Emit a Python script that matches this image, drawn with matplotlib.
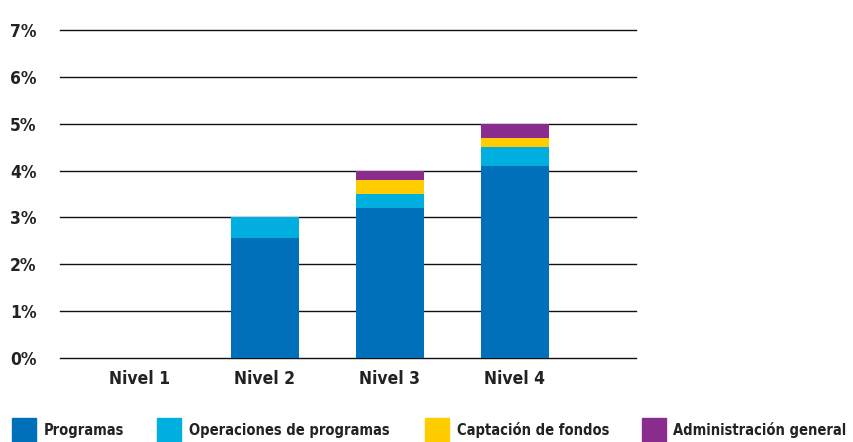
import matplotlib
matplotlib.use("Agg")
import matplotlib.pyplot as plt
from matplotlib.patches import Rectangle
import numpy as np

categories = ["Nivel 1", "Nivel 2", "Nivel 3", "Nivel 4"]
series_names = ["Programas", "Operaciones de programas", "Captación de fondos", "Administración general"]
programas = [0.0, 2.56, 3.2, 4.1]
operaciones = [0.0, 0.44, 0.3, 0.4]
captacion = [0.0, 0.0, 0.3, 0.2]
administracion = [0.0, 0.0, 0.2, 0.3]
yticks = [0, 1, 2, 3, 4, 5, 6, 7]
ytick_labels = ["0%", "1%", "2%", "3%", "4%", "5%", "6%", "7%"]
colors = ["#0070BA", "#00AEE0", "#FFCC00", "#8A2B8E"]

plt.rcParams['font.family'] = ['DejaVu Sans']
plt.rcParams['font.stretch'] = 'condensed'

fig = plt.figure(figsize=(8.54, 4.42), dpi=100)
ax = fig.add_axes([60/854, 84/442, 576/854, 328/442])

x = np.arange(len(categories))
bottom = np.zeros(len(categories))
for vals, c in zip([programas, operaciones, captacion, administracion], colors):
    ax.bar(x, vals, bottom=bottom, width=0.54, color=c, zorder=3, linewidth=0)
    bottom += np.array(vals)

ax.set_xlim(-0.64, 3.97)
ax.set_ylim(0, 7)
ax.set_yticks(yticks)
ax.set_yticklabels(ytick_labels, fontsize=12.5, fontweight='bold', color='#222222',
                   fontstretch='condensed')
ax.set_xticks(x)
ax.set_xticklabels(categories, fontsize=12.5, fontweight='bold', color='#222222',
                   fontstretch='condensed')
ax.tick_params(length=0, axis='x', pad=9)
for lbl in ax.get_yticklabels():
    lbl.set_horizontalalignment('left')
ax.yaxis.set_tick_params(length=0, pad=36)
ax.grid(axis='y', color='#111111', linewidth=1.0, zorder=0)
for gl in ax.get_ygridlines():
    gl.set_clip_on(False)
for s in ax.spines.values():
    s.set_visible(False)

# legend
leg_x = [12, 157, 425, 642]
txt_x = [44, 189, 457, 673]
for lx, tx, name, c in zip(leg_x, txt_x, series_names, colors):
    fig.patches.append(Rectangle((lx/854, 0), 24/854, 24/442, transform=fig.transFigure,
                                 color=c, figure=fig))
    fig.text(tx/854, 4/442, name, fontsize=10.5, fontweight='bold', color='#222222',
             fontstretch='condensed', ha='left', va='bottom')

fig.savefig("out.png", dpi=100)
